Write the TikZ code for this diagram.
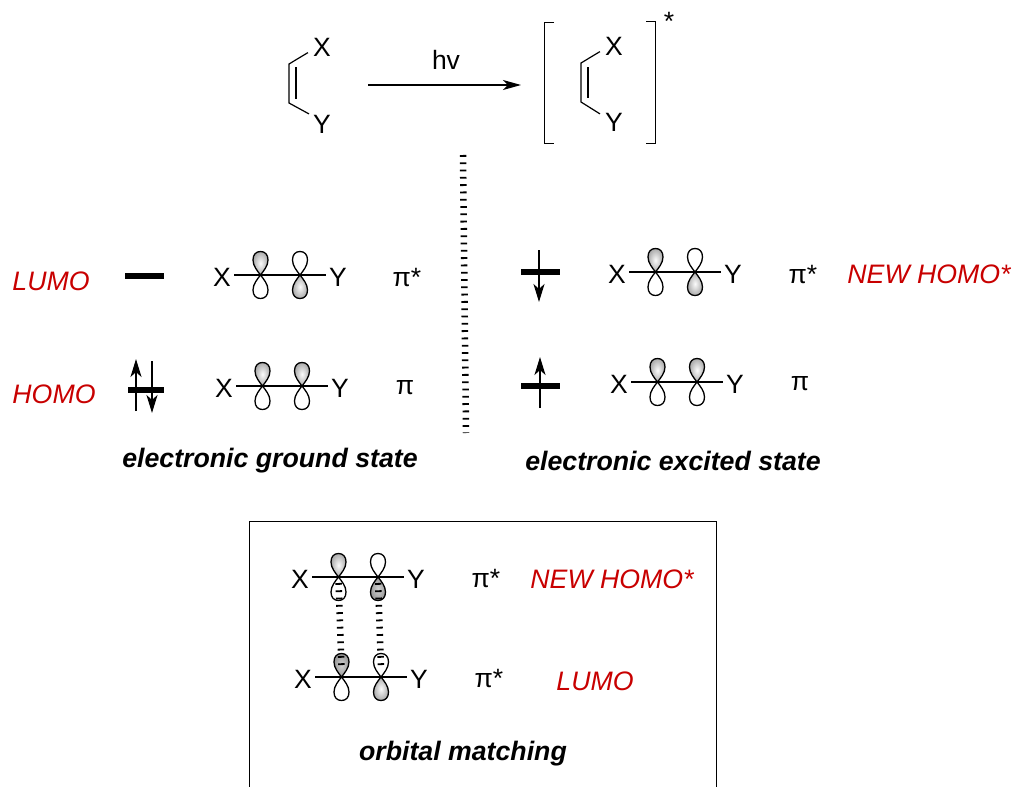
\documentclass[tikz,border=0pt]{standalone}
\usepackage{fontspec}
\setmainfont{Liberation Sans}
\usepackage{xcolor}
\usetikzlibrary{positioning,calc,arrows.meta}
\definecolor{labelred}{RGB}{200,0,0}
\tikzset{
    atom/.style={inner sep=3pt, font=\fontsize{26.5}{26.5}\selectfont},
    redlabel/.style={inner sep=0pt, text=labelred, font=\fontsize{26.7}{26.7}\selectfont\itshape},
    statelabel/.style={inner sep=0pt, font=\fontsize{26.7}{26.7}\selectfont\bfseries\itshape},
    bond/.style={line width=1.2pt},
    frame/.style={line width=1.6pt},
    level/.style={line width=6pt},
    spin/.style={line width=2pt, -{Stealth[length=18pt,width=11pt,inset=5pt]}},
    hashed/.style={line width=6.5pt, dash pattern=on 1.8pt off 5.5pt},
    lit/.style={shade, shading=radial, inner color=gray!3, outer color=gray!65},
    dim/.style={shade, shading=radial, inner color=gray!35, outer color=gray!120!black},
    plain/.style={fill=white},
    pics/lobe/.style={code={
        \draw[line width=1.3pt, #1] (0,0) .. controls (-3,-4) and (-7.5,-9) .. (-7.5,-15)
            .. controls (-7.5,-20.5) and (-4.5,-23.5) .. (0,-23.5)
            .. controls (4.5,-23.5) and (7.5,-20.5) .. (7.5,-15)
            .. controls (7.5,-9) and (3,-4) .. (0,0) -- cycle;
    }},
    pics/lobedown/.style={code={
        \draw[line width=1.3pt, #1] (0,0) .. controls (-3,4) and (-7.5,9) .. (-7.5,15)
            .. controls (-7.5,20.5) and (-4.5,23.5) .. (0,23.5)
            .. controls (4.5,23.5) and (7.5,20.5) .. (7.5,15)
            .. controls (7.5,9) and (3,4) .. (0,0) -- cycle;
    }}
}
\newcommand{\orbrow}[7]{
    \coordinate (#1-a) at (#2+38.5,#3);
    \coordinate (#1-b) at (#2+78,#3);
    \pic at (#1-a) {lobe={#4}};
    \pic at (#1-a) {lobedown={#5}};
    \pic at (#1-b) {lobe={#6}};
    \pic at (#1-b) {lobedown={#7}};
    \node[atom] (#1-x) at (#2,#3+2) {X};
    \node[atom] (#1-y) at (#2+116,#3+2) {Y};
    \draw[bond] ([yshift=2pt]#1-x.east) -- ([yshift=2pt]#1-y.west);
}
\begin{document}
\begin{tikzpicture}[x=1pt,y=-1pt]
    \useasboundingbox (0,0) rectangle (1013,787);

    \node[atom] (xleft) at (322,47) {X};
    \node[atom] (yleft) at (322,124) {Y};
    \coordinate (cleftx) at (289,64);
    \coordinate (clefty) at (289,103);
    \draw[bond] ([xshift=-2pt]xleft.205) -- (cleftx) -- (clefty) -- ([xshift=-1pt]yleft.140);
    \draw[bond] (296,67) -- (296,99);

    \node[atom] (xright) at (614,46) {X};
    \node[atom] (yright) at (614,122) {Y};
    \coordinate (crightx) at (581,63);
    \coordinate (crighty) at (581,102);
    \draw[bond] ([xshift=-2pt]xright.205) -- (crightx) -- (crighty) -- ([xshift=-2pt]yright.146);
    \draw[bond] (588,67) -- (588,98);

    \coordinate (arrowstart) at (368,85);
    \coordinate (arrowend) at (521,85);
    \draw[bond, -{Stealth[length=18pt,width=10pt,inset=5pt]}] (arrowstart) -- (arrowend);
    \node[atom] (light) at (446,60) {hv};

    \draw[frame] (554,22.5) -- (544.5,22.5) -- (544.5,143.5) -- (554,143.5);
    \draw[frame] (646,21.5) -- (655.5,21.5) -- (655.5,143.5) -- (646,143.5);
    \node[atom] (excited) at (669,21) {*};

    \coordinate (dividertop) at (463,155);
    \coordinate (dividerbottom) at (466,433);
    \draw[hashed] (dividertop) -- (dividerbottom);

    \node[redlabel] (lumoleft) at (51,281) {LUMO};
    \node[redlabel] (homoleft) at (54,394) {HOMO};
    \draw[level] (125,276) -- (164,276);
    \draw[level] (128,390) -- (164,390);
    \draw[spin] (136,411) -- (136,359);
    \draw[spin] (152,361) -- (152,413);
    \orbrow{gsu}{222}{275}{lit}{plain}{plain}{lit}
    \orbrow{gsb}{224}{386}{lit}{plain}{lit}{plain}
    \node[atom] (gsustar) at (407,278) {π*};
    \node[atom] (gsbpi) at (405,388) {π};
    \node[statelabel] (ground) at (270,461) {electronic ground state};

    \draw[level] (521,272) -- (560,272);
    \draw[level] (521,386) -- (560,386);
    \draw[spin] (539,250) -- (539,302);
    \draw[spin] (540,408) -- (540,357);
    \orbrow{esu}{617}{272}{lit}{plain}{plain}{lit}
    \orbrow{esb}{619}{382}{lit}{plain}{lit}{plain}
    \node[atom] (esustar) at (803,275) {π*};
    \node[atom] (esbpi) at (800,384) {π};
    \node[redlabel] (newhomo) at (929,274) {NEW HOMO*};
    \node[statelabel] (exstate) at (673,461) {electronic excited state};

    \draw[frame] (249.5,787) -- (249.5,521.5) -- (716.5,521.5) -- (716.5,787);
    \orbrow{mtop}{300}{577}{lit}{plain}{plain}{dim}
    \orbrow{mbot}{303}{677}{dim}{plain}{plain}{lit}
    \draw[hashed] ([yshift=-6pt]mtop-a) -- ([yshift=10pt]mbot-a);
    \draw[hashed] ([yshift=-6pt]mtop-b) -- ([yshift=10pt]mbot-b);
    \node[atom] (mtopstar) at (486,579) {π*};
    \node[atom] (mbotstar) at (489,679) {π*};
    \node[redlabel] (newhomobox) at (612,579) {NEW HOMO*};
    \node[redlabel] (lumobox) at (595,681) {LUMO};
    \node[statelabel] (matching) at (463,754) {orbital matching};
\end{tikzpicture}
\end{document}
